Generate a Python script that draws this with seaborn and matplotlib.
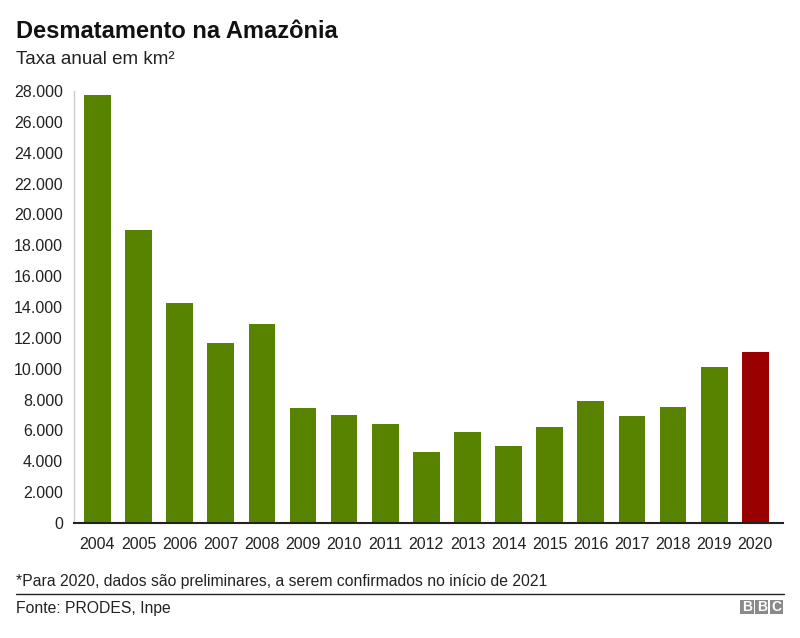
import seaborn as sns
import matplotlib.pyplot as plt
from matplotlib.patches import Rectangle
from matplotlib.ticker import FuncFormatter

# dados (PRODES, km²)
anos = ["2004", "2005", "2006", "2007", "2008", "2009", "2010", "2011", "2012",
        "2013", "2014", "2015", "2016", "2017", "2018", "2019", "2020"]
taxa = [27772, 19014, 14286, 11651, 12911, 7464, 7000, 6418, 4571,
        5891, 5012, 6207, 7893, 6947, 7536, 10129, 11088]
VERDE = "#588300"
VERMELHO = "#990000"
cores = [VERMELHO if a == "2020" else VERDE for a in anos]

sns.set_style("white")
plt.rcParams["font.family"] = ["Liberation Sans", "DejaVu Sans"]

fig = plt.figure(figsize=(8, 6.38), dpi=100)
ax = fig.add_axes([0.0925, 0.1803, 0.886, 0.677])

sns.barplot(x=anos, y=taxa, hue=anos, palette=cores, legend=False,
            width=0.65, saturation=1, linewidth=0, ax=ax)

ax.set_xlim(-0.57, len(anos) - 1 + 0.67)
ax.set_ylim(0, 28000)
ax.set_yticks(range(0, 28001, 2000))
ax.yaxis.set_major_formatter(FuncFormatter(lambda v, p: f"{int(v):,}".replace(",", ".")))
ax.tick_params(axis="both", length=0, labelsize=11.5, colors="#222222")
ax.tick_params(axis="x", pad=10)
ax.tick_params(axis="y", pad=8)
ax.set_xlabel("")
ax.set_ylabel("")

for s in ["top", "right"]:
    ax.spines[s].set_visible(False)
ax.spines["left"].set_color("#cccccc")
ax.spines["left"].set_linewidth(1)
ax.spines["bottom"].set_color("#222222")
ax.spines["bottom"].set_linewidth(1.5)

fig.text(0.02, 0.951, "Desmatamento na Amazônia", fontsize=17,
         fontweight="bold", va="center", ha="left", color="#111111")
fig.text(0.02, 0.907, "Taxa anual em km²", fontsize=13.5,
         va="center", ha="left", color="#222222")
fig.text(0.02, 0.089, "*Para 2020, dados são preliminares, a serem confirmados no início de 2021",
         fontsize=11.3, va="center", ha="left", color="#222222")
fig.add_artist(plt.Line2D([0.02, 0.98], [0.069, 0.069], color="#222222",
                          linewidth=1, transform=fig.transFigure))
fig.text(0.02, 0.046, "Fonte: PRODES, Inpe", fontsize=11.3,
         va="center", ha="left", color="#222222")

# logo BBC
bw, bh, gap = 0.0165, 0.022, 0.002
x0, y0 = 0.979 - 3 * bw - 2 * gap, 0.037
for i, letra in enumerate("BBC"):
    xi = x0 + i * (bw + gap)
    fig.add_artist(Rectangle((xi, y0), bw, bh, transform=fig.transFigure,
                             facecolor="#8a8a8a", edgecolor="none"))
    fig.text(xi + bw / 2, y0 + bh / 2, letra, fontsize=10, fontweight="bold",
             color="white", ha="center", va="center")

fig.savefig("out.png", dpi=100)
